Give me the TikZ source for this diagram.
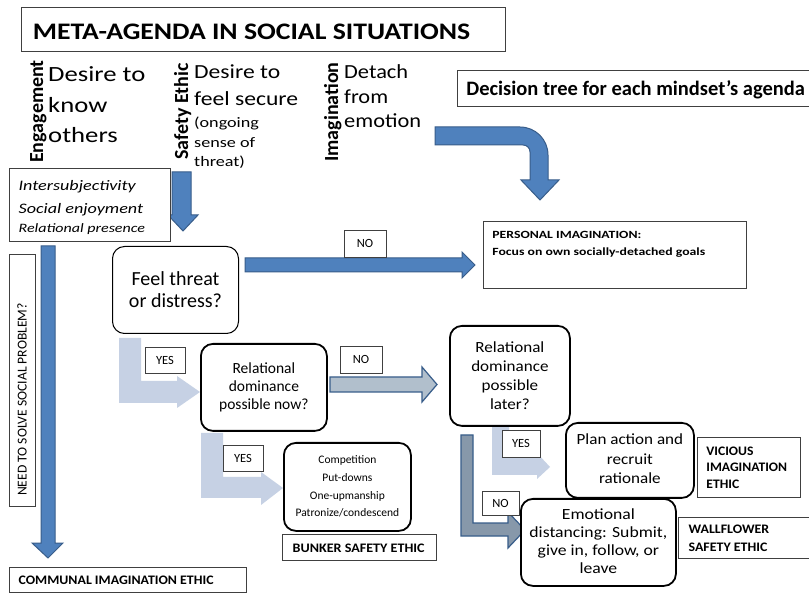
\documentclass[tikz,border=0pt]{standalone}
\usepackage{fontspec}
\usepackage{graphicx}
\setmainfont{Carlito}
\definecolor{ablue}{HTML}{4F81BD}
\definecolor{ablueb}{HTML}{385D8A}
\definecolor{alight}{HTML}{C6D1E4}
\definecolor{agray}{HTML}{B1BFCC}
\definecolor{adark}{HTML}{8798AA}
\definecolor{lblgray}{HTML}{404040}
\newcommand{\fsz}[2]{\fontsize{#1}{#2}\selectfont}
\newcommand{\hs}[2]{\scalebox{#1}[1]{#2}}
\tikzset{
  lbl/.style={draw=lblgray, line width=0.75pt, fill=white, inner sep=0pt},
  tag/.style={lbl, font=\fsz{12.5}{14}},
  tl/.style={anchor=north west, inner sep=0pt},
  rbox/.style={draw=black, line width=1.8pt, rounded corners=12pt, fill=white, inner sep=0pt, anchor=north west},
  bluearrow/.style={fill=ablue, draw=ablueb, line width=1pt, line join=miter},
  lightarrow/.style={fill=alight},
  grayarrow/.style={fill=agray, draw=ablueb, line width=1.2pt},
  darkarrow/.style={fill=adark, draw=ablueb, line width=1.2pt},
  head/.style={anchor=base west, inner sep=0pt},
  rothead/.style={rotate=90, anchor=base west, inner sep=0pt, font=\bfseries\fsz{20}{24}},
}
\begin{document}
\begin{tikzpicture}[x=1pt,y=-1pt]
\useasboundingbox (0,0) rectangle (809,593);
\fill[white] (0,0) rectangle (809,593);

% ---------- block arrows ----------
\filldraw[bluearrow] (172,172) -- (191,172) -- (191,215) -- (198,215) -- (183,231) -- (168,215) -- (172,215) -- cycle;
\filldraw[bluearrow] (41,246) -- (55,246) -- (55,543) -- (63,543) -- (48,558) -- (32,543) -- (41,543) -- cycle;
\filldraw[bluearrow] (245,258) -- (462,258) -- (462,252) -- (475,265) -- (462,278) -- (462,272) -- (245,272) -- cycle;
\filldraw[bluearrow] (435,127) -- (520,127) .. controls (535.5,127) and (548,139.5) .. (548,155) -- (548,180) -- (559,180) -- (540,200) -- (521,180) -- (530,180) -- (530,152) .. controls (530,148) and (527,145) .. (523,145) -- (435,145) -- cycle;
\fill[lightarrow] (119,338) -- (141,338) -- (141,381) -- (177,381) -- (177,376) -- (200,392) -- (177,408) -- (177,403) -- (119,403) -- cycle;
\fill[lightarrow] (201,433) -- (223,433) -- (223,477) -- (261,477) -- (261,472) -- (283,488) -- (261,505) -- (261,498) -- (201,498) -- cycle;
\fill[lightarrow] (492,427) -- (509,427) -- (509,458) -- (537,458) -- (537,453) -- (550,467) -- (537,479) -- (537,475) -- (492,475) -- cycle;
\filldraw[grayarrow] (330,377) -- (422,377) -- (422,367) -- (437,384.5) -- (422,402) -- (422,392) -- (330,392) -- cycle;
\filldraw[darkarrow] (461,435) -- (473,435) -- (473,523) -- (508,523) -- (508,512) -- (525,530) -- (508,548) -- (508,536) -- (461,536) -- cycle;

% ---------- headings ----------
\node[lbl, tl, minimum width=484pt, text height=32pt, text depth=12pt] (title) at (21,7)
  {\hs{1.17}{\parbox[t]{394pt}{\raggedright\bfseries\fsz{23.7}{28}META-AGENDA IN SOCIAL SITUATIONS}}};
\node[lbl, tl, minimum width=360pt, text height=25pt, text depth=11pt] (tree) at (457,70)
  {\parbox[t]{342pt}{\raggedright\bfseries\fsz{20.5}{24}Decision tree for each mindset’s agenda}};

\node[rothead] (eng) at (43,163) {Engagement};
\node[rothead] (saf) at (188,160) {Safety Ethic};
\node[rothead] (ima) at (338,162) {Imagination};

\node[head] (engtxt) at (48,82) {\hs{1.23}{\parbox[t]{90pt}{\raggedright\fsz{21.7}{30.5}Desire to\\know\\others}}};
\node[head] (saftxt) at (194,79) {\hs{1.18}{\parbox[t]{95pt}{\raggedright\fsz{20}{27}Desire to\\feel secure}}};
\node[head] (safsub) at (194,128) {\hs{1.25}{\parbox[t]{60pt}{\raggedright\fsz{14.5}{19.5}(ongoing\\sense of\\threat)}}};
\node[head] (imatxt) at (344,79) {\hs{1.12}{\parbox[t]{80pt}{\raggedright\fsz{20}{24.5}Detach\\from\\emotion}}};

% ---------- rectangular labels ----------
\node[lbl, tl, minimum width=161pt, text height=22pt, text depth=51pt] (inter) at (9,168)
  {\hs{1.25}{\parbox[t]{114pt}{\raggedright\itshape\fsz{14.5}{19}Intersubjectivity\\[4pt]Social enjoyment\\\fsz{12.8}{19}Relational presence}}};
\node[lbl, rotate=90, minimum width=252pt, minimum height=26pt] (need) at (22,380)
  {\parbox{232pt}{\raggedright\fsz{13.6}{15}NEED TO SOLVE SOCIAL PROBLEM?}};
\node[lbl, tl, minimum width=263pt, text height=17pt, text depth=50pt] (pers) at (483,221)
  {\hs{1.25}{\parbox[t]{196pt}{\raggedright\bfseries\fsz{11}{17}PERSONAL IMAGINATION:\\Focus on own socially-detached goals}}};
\node[lbl, tl, minimum width=154pt, text height=17.7pt, text depth=8.3pt] (bunker) at (282,534)
  {\hs{1.085}{\parbox[t]{123pt}{\raggedright\bfseries\fsz{13}{15}BUNKER SAFETY ETHIC}}};
\node[lbl, tl, minimum width=237pt, text height=17pt, text depth=8pt] (comm) at (9,567)
  {\hs{1.066}{\parbox[t]{205pt}{\raggedright\bfseries\fsz{13}{15}COMMUNAL IMAGINATION ETHIC}}};
\node[lbl, tl, minimum width=103pt, text height=18pt, text depth=42pt] (vic) at (697,437)
  {\hs{1.05}{\parbox[t]{81pt}{\raggedright\bfseries\fsz{13}{16.5}VICIOUS\\IMAGINATION\\ETHIC}}};
\node[lbl, tl, minimum width=150pt, text height=16pt, text depth=25pt] (wall) at (678,517)
  {\hs{1.07}{\parbox[t]{121pt}{\raggedright\bfseries\fsz{13}{18}WALLFLOWER\\SAFETY ETHIC}}};

% ---------- YES / NO tags ----------
\node[tag, minimum width=42pt, minimum height=27pt] (no1) at (365,243.5) {NO};
\node[tag, minimum width=40pt, minimum height=26pt] (yes1) at (165,360) {YES};
\node[tag, minimum width=42pt, minimum height=27pt] (no2) at (361,359.5) {NO};
\node[tag, minimum width=40pt, minimum height=26pt] (yes2) at (243,458) {YES};
\node[tag, minimum width=38pt, minimum height=27pt] (yes3) at (521,443.5) {YES};
\node[tag, minimum width=37pt, minimum height=24pt] (no3) at (500.5,503) {NO};

% ---------- rounded decision boxes ----------
\node[rbox, line width=1pt, minimum width=126pt, text height=39pt, text depth=48pt] (feel) at (112,246)
  {\parbox[t]{120pt}{\centering\fsz{20}{22}Feel threat\\or distress?}};
\node[rbox, minimum width=126pt, text height=30pt, text depth=57pt] (relnow) at (200,343)
  {\parbox[t]{120pt}{\centering\fsz{15.5}{17.7}Relational\\dominance\\possible now?}};
\node[rbox, minimum width=127pt, text height=21pt, text depth=67pt] (comp) at (283,442)
  {\parbox[t]{120pt}{\centering\fsz{11.5}{17.6}Competition\\Put-downs\\One-upmanship\\Patronize/condescend}};
\node[rbox, minimum width=120pt, text height=27pt, text depth=73pt] (rellater) at (449,325)
  {\hs{1.1}{\parbox[t]{103pt}{\centering\fsz{15.5}{19}Relational\\dominance\\possible\\later?}}};
\node[rbox, minimum width=128pt, text height=22pt, text depth=53pt] (plan) at (565,422)
  {\hs{1.1}{\parbox[t]{111pt}{\centering\fsz{15.5}{19.5}Plan action and\\recruit\\rationale}}};
\node[rbox, minimum width=155pt, text height=21pt, text depth=66pt] (emo) at (520,498)
  {\hs{1.14}{\parbox[t]{131pt}{\centering\fsz{15.5}{18}Emotional\\distancing: Submit,\\give in, follow, or\\leave}}};
\end{tikzpicture}
\end{document}
